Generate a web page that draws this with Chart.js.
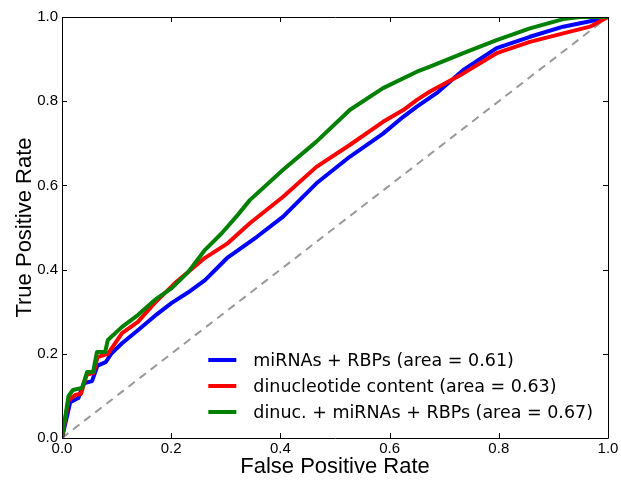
<!DOCTYPE html>
<html>
<head>
<meta charset="utf-8">
<script src="https://cdn.jsdelivr.net/npm/chart.js@4/dist/chart.umd.min.js"></script>
<style>
html,body{margin:0;padding:0;background:#fff;}
canvas{display:block;}
</style>
</head>
<body>
<canvas id="c" width="621" height="480"></canvas>
<script>
// ---- data ----
const tickLabels = ["0.0", "0.2", "0.4", "0.6", "0.8", "1.0"];
const seriesNames = [
  "miRNAs + RBPs (area = 0.61)",
  "dinucleotide content (area = 0.63)",
  "dinuc. + miRNAs + RBPs (area = 0.67)"
];
const blueFPR = [0,0.015,0.03,0.04,0.055,0.065,0.08,0.09,0.11,0.139,0.17,0.201,0.23,0.262,0.302,0.357,0.405,0.466,0.527,0.588,0.625,0.65,0.686,0.735,0.796,0.857,0.918,0.967,1];
const blueTPR = [0,0.085,0.095,0.13,0.135,0.172,0.18,0.2,0.225,0.256,0.29,0.321,0.345,0.375,0.427,0.478,0.526,0.605,0.668,0.723,0.763,0.787,0.819,0.874,0.926,0.953,0.977,0.99,1];
const redFPR = [0,0.012,0.024,0.035,0.045,0.058,0.065,0.084,0.11,0.139,0.17,0.207,0.262,0.304,0.344,0.405,0.466,0.527,0.588,0.625,0.65,0.674,0.735,0.796,0.857,0.918,0.967,1];
const redTPR = [0,0.09,0.102,0.105,0.15,0.155,0.192,0.2,0.249,0.276,0.321,0.368,0.428,0.463,0.51,0.573,0.644,0.696,0.751,0.779,0.803,0.823,0.866,0.914,0.941,0.961,0.977,1];
const greenFPR = [0,0.012,0.02,0.037,0.046,0.057,0.064,0.079,0.084,0.11,0.139,0.17,0.201,0.231,0.262,0.293,0.322,0.344,0.405,0.466,0.527,0.588,0.65,0.674,0.735,0.796,0.857,0.918,0.949,1];
const greenTPR = [0,0.1,0.114,0.119,0.157,0.157,0.204,0.204,0.233,0.264,0.292,0.328,0.356,0.394,0.447,0.487,0.53,0.565,0.637,0.704,0.779,0.831,0.870,0.882,0.914,0.945,0.973,0.995,1,1];
const chanceFPR = [0, 1];
const chanceTPR = [0, 1];

function pts(xs, ys){ return xs.map((x,i)=>({x:x, y:ys[i]})); }

const framePlugin = {
  id: 'frame',
  afterDatasetsDraw(chart){
    const ctx = chart.ctx, a = chart.chartArea;
    const xs = chart.scales.x, ys = chart.scales.y;
    ctx.save();
    ctx.strokeStyle = '#000';
    ctx.lineWidth = 1;
    ctx.beginPath();
    ctx.rect(Math.round(a.left)+0.5, Math.round(a.top)+0.5, Math.round(a.right-a.left), Math.round(a.bottom-a.top));
    ctx.stroke();
    const L = 5;
    ctx.beginPath();
    xs.ticks.forEach(t=>{
      const px = Math.round(xs.getPixelForValue(t.value))+0.5;
      ctx.moveTo(px, a.bottom); ctx.lineTo(px, a.bottom-L);
      ctx.moveTo(px, a.top); ctx.lineTo(px, a.top+L);
    });
    ys.ticks.forEach(t=>{
      const py = Math.round(ys.getPixelForValue(t.value))+0.5;
      ctx.moveTo(a.left, py); ctx.lineTo(a.left+L, py);
      ctx.moveTo(a.right, py); ctx.lineTo(a.right-L, py);
    });
    ctx.stroke();

    // legend (lower right, no frame)
    ctx.font = '17.5px "DejaVu Sans", sans-serif';
    ctx.textBaseline = 'middle';
    ctx.textAlign = 'left';
    const entries = chart.data.datasets.filter(d=>d.label);
    const textW = Math.max(...entries.map(d=>ctx.measureText(d.label).width));
    const textX = a.right - 15 - textW;
    const lineX1 = textX - 45, lineX2 = textX - 17;
    const rowH = 26;
    const lastY = a.bottom - 26;
    entries.forEach((d,i)=>{
      const y = lastY - (entries.length-1-i)*rowH;
      ctx.strokeStyle = d.borderColor;
      ctx.lineWidth = 4;
      ctx.beginPath();
      ctx.moveTo(lineX1, y); ctx.lineTo(lineX2, y);
      ctx.stroke();
      ctx.fillStyle = '#000';
      ctx.fillText(d.label, textX, y+1);
    });
    ctx.restore();
  }
};

new Chart(document.getElementById('c'), {
  type: 'line',
  data: {
    datasets: [
      {label: seriesNames[0], data: pts(blueFPR, blueTPR), borderColor: '#0000ff', borderWidth: 4, order: 2},
      {label: seriesNames[1], data: pts(redFPR, redTPR), borderColor: '#ff0000', borderWidth: 4, order: 1},
      {label: seriesNames[2], data: pts(greenFPR, greenTPR), borderColor: '#008000', borderWidth: 4, order: 0},
      {label: '', data: pts(chanceFPR, chanceTPR), borderColor: '#999999', borderWidth: 2, borderDash: [8, 6], order: 3}
    ]
  },
  options: {
    responsive: false,
    animation: false,
    events: [],
    elements: { point: { radius: 0 }, line: { tension: 0, fill: false, borderCapStyle: 'butt', borderJoinStyle: 'round' } },
    layout: { padding: { left: 0, top: 17, right: 13, bottom: 0 } },
    plugins: { legend: { display: false }, tooltip: { enabled: false } },
    scales: {
      x: {
        type: 'linear', min: 0, max: 1,
        grid: { display: false, drawTicks: false },
        border: { display: false },
        ticks: { stepSize: 0.2, padding: 2, color: '#000', font: { family: '"Liberation Sans", Arial, sans-serif', size: 15 },
                 maxRotation: 0, callback: (v) => tickLabels[Math.round(v*5)] },
        title: { display: true, text: 'False Positive Rate', color: '#000',
                 font: { family: '"Liberation Sans", Arial, sans-serif', size: 22 }, padding: { top: 0, bottom: 0 } },
        afterFit: (s) => { s.height = 42; }
      },
      y: {
        type: 'linear', min: 0, max: 1,
        grid: { display: false, drawTicks: false },
        border: { display: false },
        ticks: { stepSize: 0.2, padding: 4, color: '#000', font: { family: '"Liberation Sans", Arial, sans-serif', size: 15 },
                 callback: (v) => tickLabels[Math.round(v*5)] },
        title: { display: true, text: 'True Positive Rate', color: '#000',
                 font: { family: '"Liberation Sans", Arial, sans-serif', size: 22 }, padding: { top: 12, bottom: 0 } },
        afterFit: (s) => { s.width = 62; }
      }
    }
  },
  plugins: [framePlugin]
});
</script>
</body>
</html>
